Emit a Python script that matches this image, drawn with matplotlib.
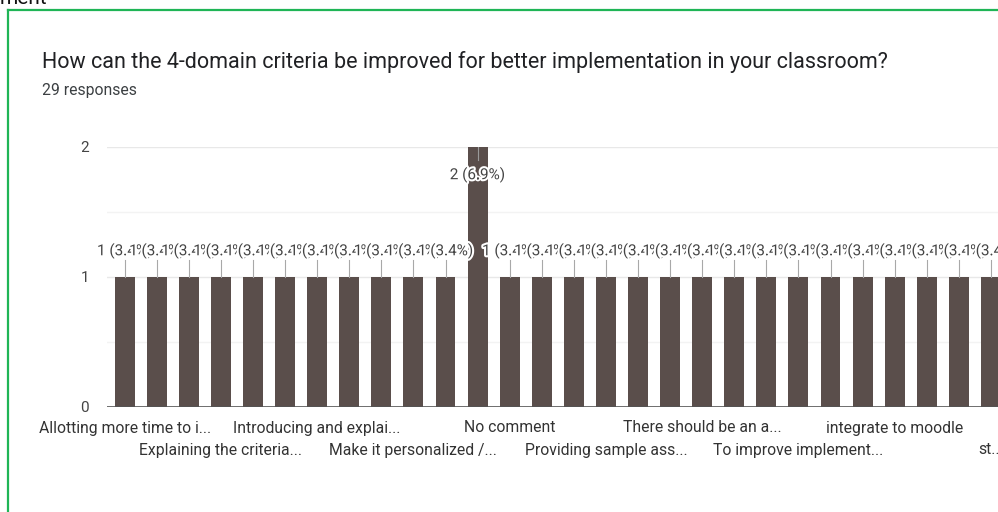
import matplotlib
matplotlib.use("Agg")
import matplotlib.pyplot as plt
import matplotlib.patheffects as pe
from matplotlib.transforms import blended_transform_factory
from matplotlib.lines import Line2D

plt.rcParams['font.family'] = ['Roboto', 'DejaVu Sans']

title = "How can the 4-domain criteria be improved for better implementation in your classroom?"
subtitle = "29 responses"

# Answers in display order; only every third label is shown on the axis
categories = [
    "Allotting more time to i...", "", "",
    "Explaining the criteria...", "", "",
    "Introducing and explai...", "", "",
    "Make it personalized /...", "", "",
    "No comment", "", "",
    "Providing sample ass...", "", "",
    "There should be an a...", "", "",
    "To improve implement...", "", "",
    "integrate to moodle", "", "",
    "st...",
]
counts = [1, 1, 1, 1, 1, 1, 1, 1, 1, 1, 1, 2, 1, 1,
          1, 1, 1, 1, 1, 1, 1, 1, 1, 1, 1, 1, 1, 1]
total = 29
yticks = [0, 1, 2]

W, H = 998, 512
fig = plt.figure(figsize=(W / 100, H / 100), dpi=100)
fig.patch.set_facecolor('white')

# green card outline (top and left edges)
fig.add_artist(Line2D([8 / W, 8 / W], [0, 1 - 9.5 / H], transform=fig.transFigure,
                      color='#1fb556', lw=1.6))
fig.add_artist(Line2D([8 / W, 1.0], [1 - 9.5 / H, 1 - 9.5 / H], transform=fig.transFigure,
                      color='#1fb556', lw=1.6))
fig.text(0.0, 1 + 1 / H, "ment", fontsize=15, color='#111111', ha='left', va='center')

fig.text(42 / W, 1 - 62 / H, title, fontsize=15.5, color='#202124', ha='left', va='center')
fig.text(42 / W, 1 - 90 / H, subtitle, fontsize=11.3, color='#3c4043', ha='left', va='center')

left_px, right_px = 107, 1007
bottom_px, top_px = 407, 147
ax = fig.add_axes([left_px / W, (H - bottom_px) / H,
                   (right_px - left_px) / W, (bottom_px - top_px) / H])
ax.set_xlim(-0.55, 27.5)
ax.set_ylim(0, 2)
for s in ax.spines.values():
    s.set_visible(False)
ax.tick_params(length=0)
ax.set_xticks([])
ax.set_yticks(yticks)
ax.set_yticklabels([str(t) for t in yticks], fontsize=11, color='#444444')
ax.tick_params(axis='y', pad=13)

# gridlines
for g in [0.5, 1.5]:
    ax.axhline(g, color='#f3f3f3', lw=1, zorder=0)
for g in [1, 2]:
    ax.axhline(g, color='#e8e8e8', lw=1, zorder=0)

x = list(range(len(counts)))
ax.bar(x, counts, width=0.62, color='#5a4e4b', zorder=2)
ax.axhline(0, color='#555555', lw=1.2, zorder=3)

halo = [pe.withStroke(linewidth=3, foreground='white')]
for i, c in enumerate(counts):
    pct = 100 * c / total
    lab = f"{c} ({pct:.1f}%)"
    if c >= 2:
        ax.plot([i, i], [c, c - 0.1], color='#9a9a9a', lw=0.8, zorder=4)
        ax.text(i, c - 0.215, lab, ha='center', va='center', fontsize=11,
                color='#444444', path_effects=halo, zorder=5)
    else:
        ax.plot([i, i], [c, c + 0.13], color='#a8a8a8', lw=0.8, zorder=4)
        ax.text(i, c + 0.2, lab, ha='center', va='center', fontsize=11,
                color='#444444', path_effects=halo, zorder=5)

# category labels, staggered over two rows
trans = blended_transform_factory(ax.transData, ax.transAxes)
shown = [i for i, name in enumerate(categories) if name]
for k, i in enumerate(shown):
    yrow = -21 / 260 if k % 2 == 0 else -43 / 260
    ax.text(i, yrow, categories[i], transform=trans, ha='center', va='center',
            fontsize=11.3, color='#333333', clip_on=False)

fig.savefig("out.png", dpi=100, facecolor='white')
